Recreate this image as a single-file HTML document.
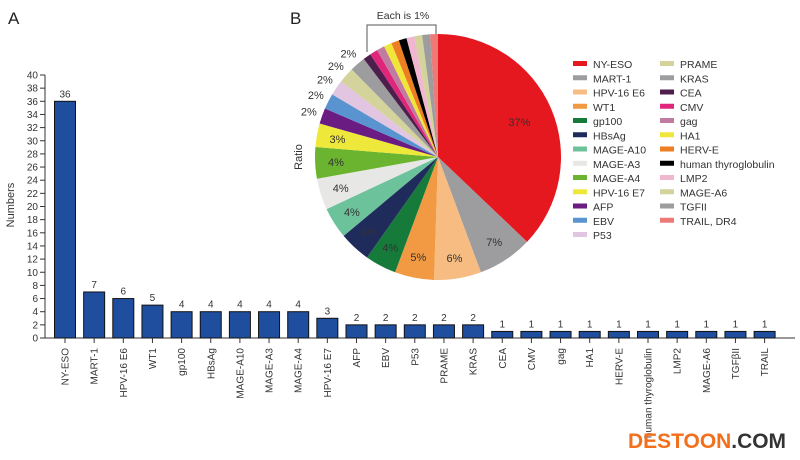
<!DOCTYPE html>
<html><head><meta charset="utf-8"><style>
html,body{margin:0;padding:0;background:#fff;}
svg{display:block;font-family:"Liberation Sans",Arial,sans-serif;}
</style></head><body>
<svg id="s" width="800" height="460" viewBox="0 0 800 460" xmlns="http://www.w3.org/2000/svg">
<text x="8" y="24" font-size="17" fill="#222">A</text>
<text x="290" y="24" font-size="17" fill="#222">B</text>
<text transform="translate(14,205) rotate(-90)" font-size="11" text-anchor="middle" fill="#333">Numbers</text>
<text transform="translate(302,157) rotate(-90)" font-size="11" text-anchor="middle" fill="#333">Ratio</text>
<text x="403" y="19" font-size="10.5" text-anchor="middle" fill="#333">Each is 1%</text>
<polyline points="367,52 367,25 436,25 436,36" fill="none" stroke="#555" stroke-width="1"/>
<g id="g"></g>
<text x="628" y="448" font-size="21" font-weight="bold" fill="#f36f1c" textLength="158" lengthAdjust="spacingAndGlyphs">DESTOON<tspan fill="#333">.COM</tspan></text>
</svg>
<script>
(function(){
var g=document.getElementById('g'),h='';
var names=["NY-ESO","MART-1","HPV-16 E6","WT1","gp100","HBsAg","MAGE-A10","MAGE-A3","MAGE-A4","HPV-16 E7","AFP","EBV","P53","PRAME","KRAS","CEA","CMV","gag","HA1","HERV-E","human thyroglobulin","LMP2","MAGE-A6","TGFβII","TRAIL"];
var vals=[36,7,6,5,4,4,4,4,4,3,2,2,2,2,2,1,1,1,1,1,1,1,1,1,1];
var cols=["#e5171f","#9d9c9f","#f6bc82","#f29a43","#167b3a","#1f2b5b","#6cc29a","#e7e7e6","#6ab42f","#eee83a","#6b1c82","#5a94d0","#e2c5e0","#d3d39b","#9d9c9f","#4e1f4c","#e0267b","#bf7ca0","#f0e63a","#ee7e22","#000000","#f1b6d0","#d3d39b","#9d9c9f","#ee7a78"];
var pct=["37%","7%","6%","5%","4%","4%","4%","4%","4%","3%","2%","2%","2%","2%","2%"];
var x0=45,y0=338,k=6.575;
h+='<line x1="'+x0+'" y1="'+(y0-40*k)+'" x2="'+x0+'" y2="'+y0+'" stroke="#333"/>';
h+='<line x1="'+x0+'" y1="'+y0+'" x2="795" y2="'+y0+'" stroke="#333"/>';
for(var t=0;t<=40;t+=2){var yy=y0-t*k;h+='<line x1="40" y1="'+yy+'" x2="'+x0+'" y2="'+yy+'" stroke="#333"/><text x="38" y="'+(yy+3.5)+'" font-size="10" text-anchor="end" fill="#333">'+t+'</text>';}
for(var i=0;i<25;i++){var c=65+i*29.15,v=vals[i],tp=y0-v*k;
h+='<rect x="'+(c-10.5)+'" y="'+tp+'" width="21" height="'+(v*k)+'" fill="#1f4e9e" stroke="#111" stroke-width="1"/>';
h+='<text x="'+c+'" y="'+(tp-4)+'" font-size="10" text-anchor="middle" fill="#333">'+v+'</text>';
h+='<line x1="'+c+'" y1="'+y0+'" x2="'+c+'" y2="'+(y0+5)+'" stroke="#333"/>';
h+='<text transform="translate('+(c+3.5)+',348) rotate(-90)" font-size="10" text-anchor="end" fill="#333">'+names[i]+'</text>';}
var cx=438,cy=157,r=123,tot=97,a=0;
function p(an,rr){return [cx+rr*Math.sin(an),cy-rr*Math.cos(an)];}
for(var i=0;i<25;i++){var a1=a+vals[i]/tot*2*Math.PI;
var s=p(a,r),e=p(a1,r),lg=(a1-a)>Math.PI?1:0;
h+='<path d="M'+cx+','+cy+' L'+s[0].toFixed(2)+','+s[1].toFixed(2)+' A'+r+','+r+' 0 '+lg+' 1 '+e[0].toFixed(2)+','+e[1].toFixed(2)+' Z" fill="'+cols[i]+'"/>';
if(i<15){var m=(a+a1)/2,rr=i<10?r*0.83:r+14;if(i==0)rr=r*0.72;var q=p(m,rr);
h+='<text x="'+q[0].toFixed(1)+'" y="'+(q[1]+4).toFixed(1)+'" font-size="11" text-anchor="middle" fill="#333">'+pct[i]+'</text>';}
a=a1;}
for(var i=0;i<25;i++){var col=i<13?0:1,row=i<13?i:i-13;var lx=col?660:573,ly=64+row*14.25;
h+='<rect x="'+lx+'" y="'+(ly-3)+'" width="14" height="5" fill="'+cols[i]+'"/>';
h+='<text x="'+(lx+20)+'" y="'+(ly+4)+'" font-size="10.5" fill="#333">'+(i==23?'TGFII':(i==24?'TRAIL, DR4':names[i]))+'</text>';}
g.innerHTML=h;
})();
</script>
</body></html>
